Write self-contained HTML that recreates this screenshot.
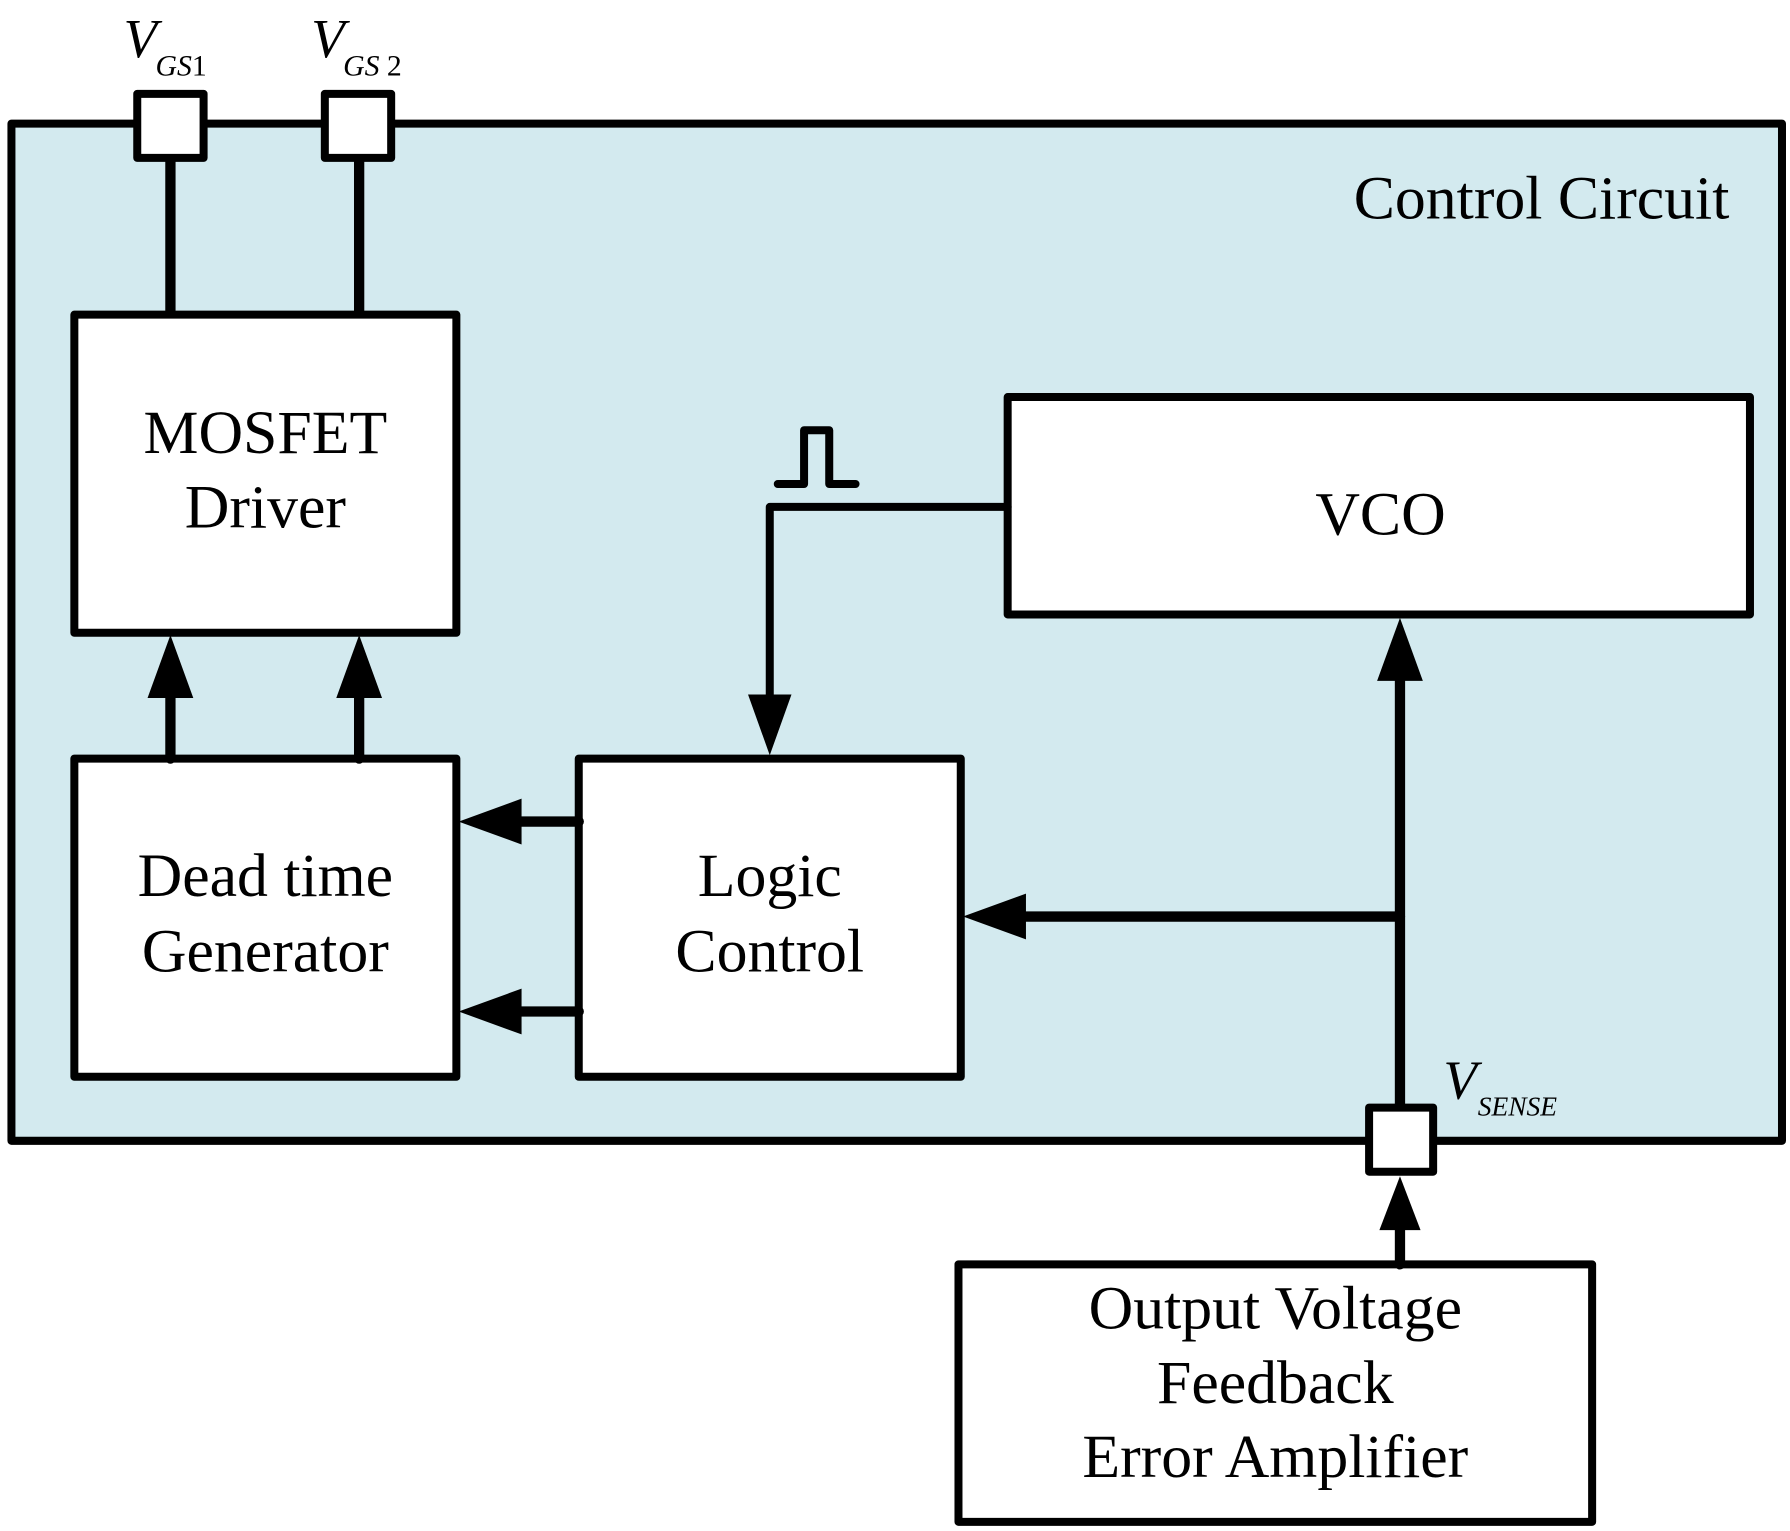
<!DOCTYPE html>
<html><head><meta charset="utf-8"><style>
html,body{margin:0;padding:0;background:#fff;}
svg{display:block;}
text{font-family:"Liberation Serif",serif;fill:#000;}
</style></head><body>
<svg width="1790" height="1531" viewBox="0 0 1565 1338" preserveAspectRatio="none">
<g stroke="#000" stroke-width="7" stroke-linejoin="round" stroke-linecap="round">
<rect x="10" y="108" width="1548" height="889" fill="#d3eaef"/>
<line x1="149" y1="138" x2="149" y2="275" stroke-width="9"/>
<line x1="314" y1="138" x2="314" y2="275" stroke-width="9"/>
<rect x="120" y="82" width="58" height="56" fill="#fff"/>
<rect x="284" y="82" width="58" height="56" fill="#fff"/>
<rect x="65" y="275" width="334" height="278" fill="#fff"/>
<rect x="65" y="663" width="334" height="278" fill="#fff"/>
<rect x="506" y="663" width="334" height="278" fill="#fff"/>
<rect x="881" y="347" width="649" height="190" fill="#fff"/>
<rect x="838" y="1105" width="554" height="225" fill="#fff"/>
<line x1="149" y1="663" x2="149" y2="605" stroke-width="9"/>
<line x1="314" y1="663" x2="314" y2="605" stroke-width="9"/>
<line x1="506" y1="718" x2="450" y2="718" stroke-width="9"/>
<line x1="506" y1="884" x2="450" y2="884" stroke-width="9"/>
<polyline points="881,443 673,443 673,610" fill="none"/>
<polyline points="680,423 703,423 703,376 725,376 725,423 748,423" fill="none"/>
<line x1="1224" y1="968" x2="1224" y2="585" stroke-width="9"/>
<line x1="1224" y1="801" x2="890" y2="801" stroke-width="9"/>
<line x1="1224" y1="1105" x2="1224" y2="1070" stroke-width="9"/>
<rect x="1197" y="968" width="56" height="56" fill="#fff"/>
</g>
<g fill="#000">
<polygon points="149,555 129,610 169,610"/>
<polygon points="314,555 294,610 334,610"/>
<polygon points="401,718 456,698 456,738"/>
<polygon points="401,884 456,864 456,904"/>
<polygon points="673,660 654,607 692,607"/>
<polygon points="1224,540 1204,595 1244,595"/>
<polygon points="842,801 897,781 897,821"/>
<polygon points="1224,1028 1206,1075 1242,1075"/>
</g>
<g font-size="54" text-anchor="middle">
<text x="232" y="396">MOSFET</text>
<text x="232" y="461">Driver</text>
<text x="232" y="783">Dead time</text>
<text x="232" y="849">Generator</text>
<text x="673" y="783">Logic</text>
<text x="673" y="849">Control</text>
<text x="1207" y="467">VCO</text>
<text x="1115" y="1161">Output Voltage</text>
<text x="1115" y="1226">Feedback</text>
<text x="1115" y="1291">Error Amplifier</text>
<text x="1512" y="191" text-anchor="end">Control Circuit</text>
</g>
<g font-style="italic">
<text x="108" y="50" font-size="48">V</text>
<text x="136" y="66" font-size="26">GS<tspan font-style="normal">1</tspan></text>
<text x="272" y="50" font-size="48">V</text>
<text x="300" y="66" font-size="26">GS<tspan font-style="normal"> 2</tspan></text>
<text x="1262" y="960" font-size="48">V</text>
<text x="1292" y="975" font-size="24">SENSE</text>
</g>
</svg>
</body></html>
